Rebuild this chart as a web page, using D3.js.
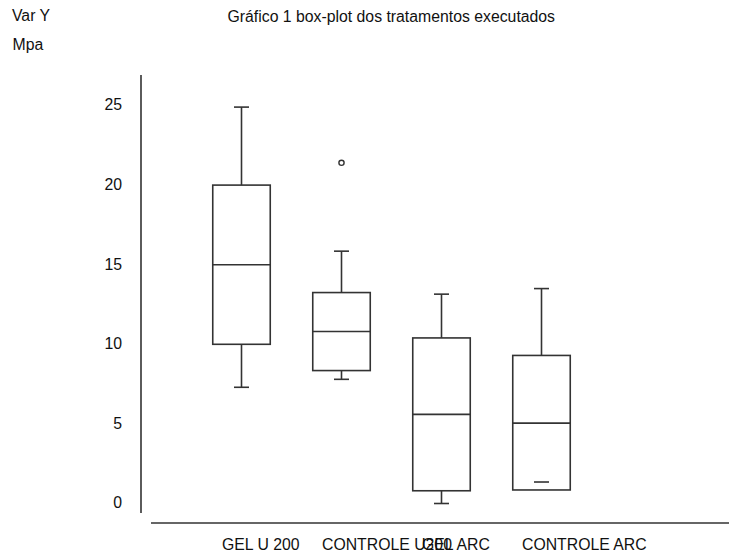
<!DOCTYPE html>
<html>
<head>
<meta charset="utf-8">
<script src="https://cdn.jsdelivr.net/npm/d3@7"></script>
<style>
  body { margin: 0; background: #fff; }
  text { font-family: "Liberation Sans", Arial, sans-serif; fill: #111; }
</style>
</head>
<body>
<div id="chart"></div>
<script>
const width = 731, height = 556;

// data
const categories = ["GEL U 200", "CONTROLE U200", "GEL ARC", "CONTROLE ARC"];
const whiskerLow = [7.3, 7.8, 0.0, 1.35];
const q1 = [10.0, 8.35, 0.8, 0.85];
const median = [15.0, 10.8, 5.6, 5.05];
const q3 = [20.0, 13.25, 10.4, 9.3];
const whiskerHigh = [24.9, 15.85, 13.15, 13.5];
const outliers = [[], [21.4], [], []];
const yTicks = [0, 5, 10, 15, 20, 25];

const fontSize = 15.8;
const ink = "#333";

const svg = d3.select("#chart").append("svg")
  .attr("width", width)
  .attr("height", height);

const x = d3.scaleBand()
  .domain(categories)
  .range([191.5, 591.5]);

const y = d3.scaleLinear()
  .domain([0, 25])
  .range([503.5, 105.5]);

const boxW = x.bandwidth() * 0.575;
const capW = 15;

// titles
svg.append("text").attr("x", 12).attr("y", 21)
  .style("font-size", fontSize + "px").text("Var Y");
svg.append("text").attr("x", 12.5).attr("y", 50)
  .style("font-size", fontSize + "px").text("Mpa");
svg.append("text").attr("x", 227.5).attr("y", 21.5)
  .style("font-size", fontSize + "px").text("Gráfico 1 box-plot dos tratamentos executados");

// Y AXIS
const yAxis = svg.append("g")
  .attr("transform", "translate(141,0)")
  .call(d3.axisLeft(y).tickValues(yTicks).tickSize(0).tickPadding(19));
yAxis.select(".domain").remove();
yAxis.selectAll("text")
  .attr("font-family", null)
  .style("font-size", fontSize + "px")
  .attr("dy", "0.28em");

svg.append("line")
  .attr("x1", 141).attr("x2", 141)
  .attr("y1", 75).attr("y2", 513)
  .attr("stroke", ink).attr("stroke-width", 1.6);

// X AXIS
svg.append("line")
  .attr("x1", 151).attr("x2", 729)
  .attr("y1", 523).attr("y2", 523)
  .attr("stroke", ink).attr("stroke-width", 1.6);

// labels start left of the box centre, so the 2nd and 3rd run into each other as in the original
svg.selectAll(".xlab")
  .data(categories)
  .join("text")
  .attr("class", "xlab")
  .attr("x", d => x(d) + x.bandwidth() / 2 - 19.5)
  .attr("y", 549.5)
  .style("font-size", fontSize + "px")
  .text(d => d);

// BOXES
const boxes = svg.selectAll(".box")
  .data(categories.map((c, i) => ({
    cat: c, lo: whiskerLow[i], q1: q1[i], med: median[i], q3: q3[i], hi: whiskerHigh[i], out: outliers[i]
  })))
  .join("g")
  .attr("class", "box")
  .attr("transform", d => `translate(${x(d.cat) + x.bandwidth() / 2},0)`)
  .attr("stroke", ink)
  .attr("stroke-width", 1.6)
  .attr("fill", "none");

boxes.append("rect")
  .attr("x", -boxW / 2)
  .attr("width", boxW)
  .attr("y", d => y(d.q3))
  .attr("height", d => y(d.q1) - y(d.q3));

boxes.append("line")
  .attr("x1", -boxW / 2).attr("x2", boxW / 2)
  .attr("y1", d => y(d.med)).attr("y2", d => y(d.med));

// upper whisker
boxes.append("line")
  .attr("x1", 0).attr("x2", 0)
  .attr("y1", d => y(d.q3)).attr("y2", d => y(d.hi));
boxes.append("line")
  .attr("x1", -capW / 2).attr("x2", capW / 2)
  .attr("y1", d => y(d.hi)).attr("y2", d => y(d.hi));

// lower whisker (only a stem when it lies below the box)
boxes.filter(d => d.lo < d.q1).append("line")
  .attr("x1", 0).attr("x2", 0)
  .attr("y1", d => y(d.q1)).attr("y2", d => y(d.lo));
boxes.append("line")
  .attr("x1", -capW / 2).attr("x2", capW / 2)
  .attr("y1", d => y(d.lo)).attr("y2", d => y(d.lo));

// outliers
boxes.selectAll("circle")
  .data(d => d.out)
  .join("circle")
  .attr("cx", 0)
  .attr("cy", d => y(d))
  .attr("r", 2.6)
  .attr("stroke-width", 1.4);
</script>
</body>
</html>
